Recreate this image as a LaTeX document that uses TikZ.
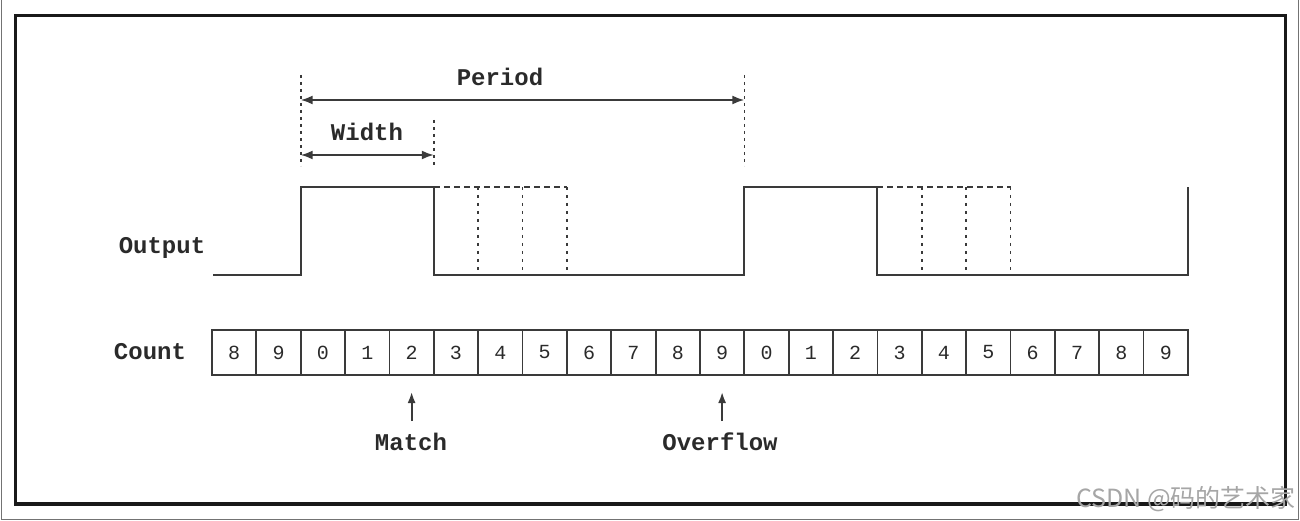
\documentclass[tikz,border=0pt]{standalone}
\usepackage{fontspec}
\setmainfont{Liberation Mono}
\newfontfamily\cjkfont{Noto Sans CJK SC}
\usetikzlibrary{arrows.meta}
\definecolor{ln}{HTML}{3A3A3A}
\definecolor{tx}{HTML}{2A2A2A}
\begin{document}
\begin{tikzpicture}[x=1pt,y=-1pt,
  cell/.style={draw=ln,line width=1.8pt,minimum width=44.36pt,minimum height=45pt,inner sep=0pt,outer sep=0pt,anchor=north west,text=tx,font=\fontsize{20}{20}\selectfont},
  lbl/.style={inner sep=0pt,text=tx,font=\fontsize{24}{24}\selectfont\bfseries},
  wave/.style={draw=ln,line width=2.1pt,line join=miter},
  ghost/.style={draw=ln,line width=1.8pt,dash pattern=on 6pt off 4pt},
  ghostv/.style={draw=ln,line width=1.8pt,dash pattern=on 3pt off 5pt},
  dim/.style={draw=ln,line width=1.6pt,dash pattern=on 3pt off 4pt},
  arr/.style={draw=ln,line width=1.8pt,-{Latex[length=11pt,width=8pt]}},
  darr/.style={draw=ln,line width=1.8pt,{Latex[length=12pt,width=9pt]}-{Latex[length=12pt,width=9pt]}}]
\useasboundingbox (0,0) rectangle (1300,521);
% outer screenshot edges
\draw[black!55,line width=1pt] (1.5,0) -- (1.5,519) -- (1298.5,519) -- (1298.5,0);
% frame
\draw[black!90,line width=3.8pt] (15.5,15.5) rectangle (1285.5,504);
% count cells
\foreach \d [count=\i from 0] in {8,9,0,1,2,3,4,5,6,7,8,9,0,1,2,3,4,5,6,7,8,9}
  \node[cell] (c\i) at ({212+44.36*\i},330) {\d};
% labels
\node[lbl] (count) at (150,352) {Count};
\node[lbl] (output) at (162,248) {Output};
\node[lbl] (period) at (500,77) {Period};
\node[lbl] (width) at (367,132) {Width};
\node[lbl] (match) at (411,442) {Match};
\node[lbl] (overflow) at (720,442) {Overflow};
% waveform
\draw[wave] (213,275) -- (300.7,275) -- (300.7,187) -- (433.8,187) -- (433.8,275)
  -- (744.3,275) -- (744.3,187) -- (877.4,187) -- (877.4,275) -- (1187.9,275) -- (1187.9,187);
% ghost pulses
\draw[ghost] (433.8,187) -- (566.9,187);
\foreach \x in {478.2,522.5,566.9} \draw[ghostv] (\x,187) -- (\x,275);
\draw[ghost] (877.4,187) -- (1010.5,187);
\foreach \x in {921.8,966.1,1010.5} \draw[ghostv] (\x,187) -- (\x,275);
% dimension lines
\draw[dim] (300.7,75) -- (300.7,166);
\draw[dim] (744.3,75) -- (744.3,166);
\draw[dim] (433.8,120) -- (433.8,166);
\coordinate (pL) at (300.7,100);
\coordinate (pR) at (744.3,100);
\coordinate (wL) at (300.7,155);
\coordinate (wR) at (433.8,155);
\draw[darr] (pL) -- (pR);
\draw[darr] (wL) -- (wR);
% event arrows
\coordinate (m1) at (411.6,421);
\coordinate (m2) at (411.6,392);
\coordinate (o1) at (722.1,421);
\coordinate (o2) at (722.1,392);
\draw[arr] (m1) -- (m2);
\draw[arr] (o1) -- (o2);
% watermark
\node[inner sep=0pt,text=black!35,font=\cjkfont\fontsize{25}{25}\selectfont] (wm) at (1186,499) {CSDN @码的艺术家};
\end{tikzpicture}
\end{document}
